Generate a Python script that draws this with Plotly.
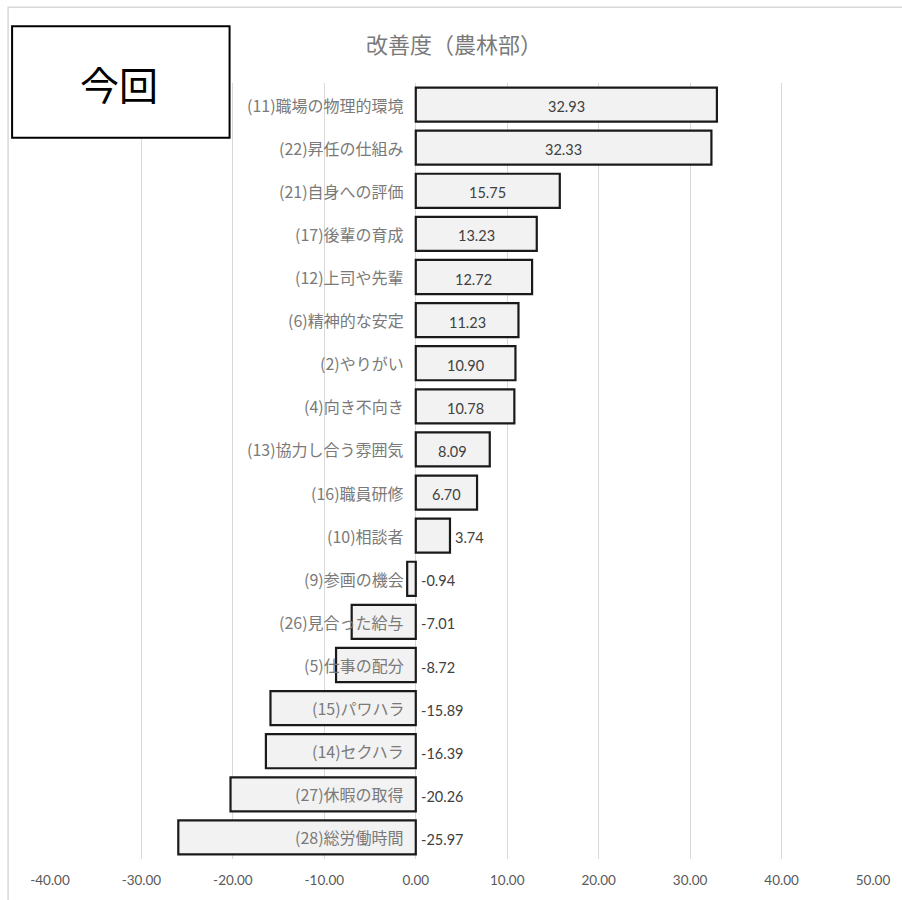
import plotly.graph_objects as go

# 改善度（農林部）: items and their improvement scores, top to bottom
categories = [
    "(11)職場の物理的環境", "(22)昇任の仕組み", "(21)自身への評価", "(17)後輩の育成",
    "(12)上司や先輩", "(6)精神的な安定", "(2)やりがい", "(4)向き不向き",
    "(13)協力し合う雰囲気", "(16)職員研修", "(10)相談者", "(9)参画の機会",
    "(26)見合った給与", "(5)仕事の配分", "(15)パワハラ", "(14)セクハラ",
    "(27)休暇の取得", "(28)総労働時間",
]
scores = [
    32.93, 32.33, 15.75, 13.23, 12.72, 11.23, 10.90, 10.78,
    8.09, 6.70, 3.74, -0.94, -7.01, -8.72, -15.89, -16.39, -20.26, -25.97,
]
x_ticks = [-40, -30, -20, -10, 0, 10, 20, 30, 40, 50]

TEXT_GRAY = "#595959"
LABEL_GRAY = "#7a7a7a"
LABEL_FONT = "Noto Sans CJK JP"
NUM_FONT = "Lato"

fig = go.Figure(
    go.Bar(
        x=scores,
        y=categories,
        orientation="h",
        marker=dict(color="#f2f2f2", line=dict(color="#1a1a1a", width=2.2)),
        hoverinfo="x+y",
    )
)

annotations = []
for cat, v in zip(categories, scores):
    # item name, right-aligned just left of the zero line
    annotations.append(dict(
        x=0, y=cat, xref="x", yref="y", text=cat, showarrow=False,
        xanchor="right", yanchor="middle", xshift=-10,
        font=dict(family=LABEL_FONT, size=16, color=LABEL_GRAY),
    ))
    # value label: centred in wide positive bars, otherwise right of the bar / zero
    if v >= 5:
        vx, anchor, shift = v / 2, "center", 0
    elif v > 0:
        vx, anchor, shift = v, "left", 3
    else:
        vx, anchor, shift = 0, "left", 3
    annotations.append(dict(
        x=vx, y=cat, xref="x", yref="y", text=f"{v:.2f}", showarrow=False,
        xanchor=anchor, yanchor="middle", xshift=shift, yshift=-2,
        font=dict(family=NUM_FONT, size=14.5, color="#404040"),
    ))

# chart title
annotations.append(dict(
    x=0.491, y=1.0514, xref="paper", yref="paper", text="改善度（農林部）",
    showarrow=False, xanchor="center", yanchor="middle",
    font=dict(family=LABEL_FONT, size=22, color=LABEL_GRAY),
))
# "今回" label inside the framed box
annotations.append(dict(
    x=(119 - 50) / 825, y=(861 - 83) / 778, xref="paper", yref="paper", text="今回",
    showarrow=False, xanchor="center", yanchor="middle",
    font=dict(family=LABEL_FONT, size=39, color="#000000"),
))

shapes = [
    # outer chart frame
    dict(type="rect", xref="paper", yref="paper",
         x0=(8 - 50) / 825, x1=(910 - 50) / 825,
         y0=(861 - 910) / 778, y1=(861 - 7) / 778,
         line=dict(color="#d9d9d9", width=1.5), fillcolor="rgba(0,0,0,0)", layer="below"),
    # box around "今回"
    dict(type="rect", xref="paper", yref="paper",
         x0=(12 - 50) / 825, x1=(230 - 50) / 825,
         y0=(861 - 138) / 778, y1=(861 - 26) / 778,
         line=dict(color="#000000", width=2), fillcolor="#ffffff", layer="above"),
]

fig.update_layout(
    width=902, height=900,
    margin=dict(l=50, r=27, t=83, b=39),
    paper_bgcolor="#ffffff", plot_bgcolor="#ffffff",
    showlegend=False, bargap=0.21,
    annotations=annotations, shapes=shapes,
    xaxis=dict(
        range=[-40, 50], tickvals=x_ticks, ticktext=[f"{t:.2f}" for t in x_ticks],
        showgrid=True, gridcolor="#d9d9d9", gridwidth=1, zeroline=False,
        showline=False, ticks="", ticklabelstandoff=11,
        tickfont=dict(family=NUM_FONT, size=13.5, color=TEXT_GRAY),
        fixedrange=True,
    ),
    yaxis=dict(
        categoryorder="array", categoryarray=categories, autorange="reversed",
        showticklabels=False, showgrid=False, zeroline=False, showline=False,
        ticks="", fixedrange=True,
    ),
)

fig.write_html("out.html")
